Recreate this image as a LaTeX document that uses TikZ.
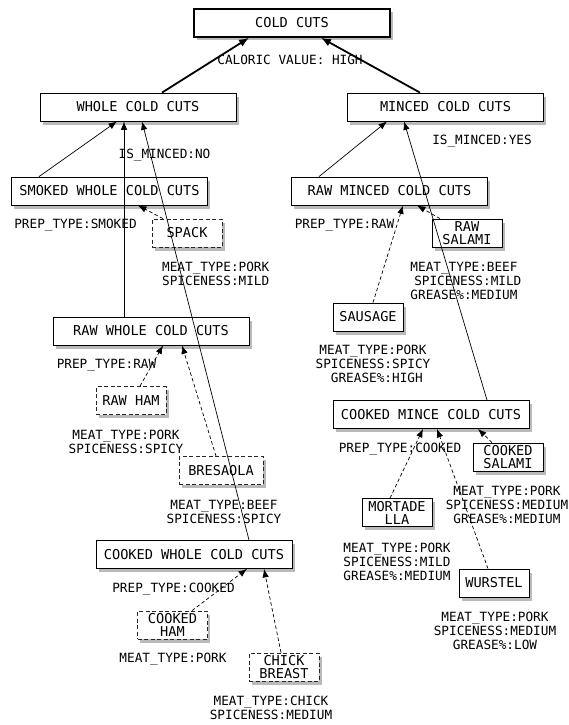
\documentclass[tikz,border=0pt]{standalone}
\usepackage{fontspec}
\setmonofont{DejaVu Sans Mono}
\usetikzlibrary{positioning}
\usetikzlibrary{shadows}
\usetikzlibrary{arrows.meta}

\newcommand{\boxfont}{\ttfamily\fontsize{13.6}{13}\selectfont}
\newcommand{\attrfont}{\ttfamily\fontsize{12.7}{14.3}\selectfont}

\tikzset{
cls/.style={draw=black, fill=white, line width=0.8pt, minimum width=196pt, minimum height=28pt, inner sep=0pt, font=\boxfont, align=center, drop shadow={shadow xshift=2.5pt, shadow yshift=-3.5pt, opacity=0.6, fill=black!45}},
obj/.style={cls, minimum width=70pt},
objd/.style={obj, dash pattern=on 4pt off 2.5pt, draw=black!85},
attr/.style={font=\attrfont, align=center, inner sep=0pt},
isa/.style={-{Latex[length=8.5pt,width=6.5pt]}, line width=0.7pt},
ins/.style={isa, dash pattern=on 3.5pt off 2.5pt}
}

\begin{document}
\begin{tikzpicture}[x=1pt, y=-1pt]

\useasboundingbox (0,0) rectangle (568,725);

% classes
{
\node (cold) at (292,23) [cls, line width=1.6pt] {COLD CUTS};
\node (whole) at (138,107) [cls] {WHOLE COLD CUTS};
\node (minced) at (445.5,107) [cls] {MINCED COLD CUTS};
\node (smoked) at (109.5,191) [cls] {SMOKED WHOLE COLD CUTS};
\node (rawmin) at (389.5,191) [cls] {RAW MINCED COLD CUTS};
\node (rawwhole) at (151,331) [cls] {RAW WHOLE COLD CUTS};
\node (cookmince) at (431,414.5) [cls] {COOKED MINCE COLD CUTS};
\node (cookwhole) at (194,554.5) [cls] {COOKED WHOLE COLD CUTS};
}

% instances
{
\node (spack) at (187,233) [objd] {SPACK};
\node (rawham) at (131,400.5) [objd] {RAW HAM};
\node (bresaola) at (221,470.5) [objd, minimum width=84pt] {BRESAOLA};
\node (cookham) at (172.5,625) [objd] {COOKED\\HAM};
\node (chick) at (284,667) [objd] {CHICK\\BREAST};

\node (rawsal) at (467,233) [obj] {RAW\\SALAMI};
\node (sausage) at (368,317) [obj] {SAUSAGE};
\node (cooksal) at (508,457) [obj] {COOKED\\SALAMI};
\node (mortad) at (397,512.5) [obj] {MORTADE\\LLA};
\node (wurstel) at (494,583) [obj] {WURSTEL};
}

% links
{
\draw[isa, line width=1.8pt, -{Latex[length=10pt,width=8pt]}] ([xshift=24]whole.north) -- ([xshift=-43]cold.south);
\draw[isa, line width=1.8pt, -{Latex[length=10pt,width=8pt]}] ([xshift=-25.5]minced.north) -- ([xshift=29]cold.south);

\draw[isa] ([xshift=-70.5]smoked.north) -- ([xshift=-21]whole.south);
\draw[isa] ([xshift=-27]rawwhole.north) -- ([xshift=-14]whole.south);
\draw[isa] ([xshift=55]cookwhole.north) -- ([xshift=4]whole.south);
\draw[isa] ([xshift=-70.5]rawmin.north) -- ([xshift=-58.5]minced.south);
\draw[isa] ([xshift=56]cookmince.north) -- ([xshift=-41.5]minced.south);

\draw[ins] ([xshift=-24]spack.north) -- ([xshift=28.5]smoked.south);
\draw[ins] ([xshift=9]rawham.north) -- ([xshift=12]rawwhole.south);
\draw[ins] ([xshift=-5]bresaola.north) -- ([xshift=31]rawwhole.south);
\draw[ins] ([xshift=19.5]cookham.north) -- ([xshift=53]cookwhole.south);
\draw[ins] ([xshift=-3]chick.north) -- ([xshift=70]cookwhole.south);
\draw[ins] ([xshift=5]sausage.north) -- ([xshift=13.5]rawmin.south);
\draw[ins] ([xshift=-27]rawsal.north) -- ([xshift=27.5]rawmin.south);
\draw[ins] ([xshift=-7]mortad.north) -- ([xshift=-8]cookmince.south);
\draw[ins] ([xshift=-6]wurstel.north) -- ([xshift=6]cookmince.south);
\draw[ins] ([xshift=-16]cooksal.north) -- ([xshift=47]cookmince.south);
}

% attributes
{
\node (caloric) at (290,60) [attr] {CALORIC VALUE: HIGH};
\node (isno) at (164.5,155) [attr] {IS\_MINCED:NO};
\node (isyes) at (482,141) [attr] {IS\_MINCED:YES};

\node (prepsmoked) at (75.5,225) [attr] {PREP\_TYPE:SMOKED};
\node (prepraw) at (106.5,365) [attr] {PREP\_TYPE:RAW};
\node (prepcook) at (173.5,589) [attr] {PREP\_TYPE:COOKED};
\node (prepmraw) at (344.5,225) [attr] {PREP\_TYPE:RAW};
\node (prepmcook) at (400,449) [attr] {PREP\_TYPE:COOKED};

\node (spackatt) at (162,274) [attr, anchor=west, align=left] {MEAT\_TYPE:PORK\\SPICENESS:MILD};
\node (rawhamatt) at (126,442) [attr] {MEAT\_TYPE:PORK\\SPICENESS:SPICY};
\node (bresatt) at (224,512) [attr] {MEAT\_TYPE:BEEF\\SPICENESS:SPICY};
\node (cookhamatt) at (173,659) [attr] {MEAT\_TYPE:PORK};
\node (chickatt) at (271,708) [attr] {MEAT\_TYPE:CHICK\\SPICENESS:MEDIUM};

\node (rawsalatt) at (464,281) [attr] {MEAT\_TYPE:BEEF\\\hphantom{X}SPICENESS:MILD\\GREASE\%:MEDIUM};
\node (sausatt) at (373,364) [attr] {MEAT\_TYPE:PORK\\SPICENESS:SPICY\\\hphantom{X}GREASE\%:HIGH};
\node (cooksalatt) at (507,505) [attr] {MEAT\_TYPE:PORK\\SPICENESS:MEDIUM\\GREASE\%:MEDIUM};
\node (mortatt) at (397,562) [attr] {MEAT\_TYPE:PORK\\SPICENESS:MILD\\GREASE\%:MEDIUM};
\node (wurstatt) at (495,631) [attr] {MEAT\_TYPE:PORK\\SPICENESS:MEDIUM\\GREASE\%:LOW};
}

\end{tikzpicture}
\end{document}
